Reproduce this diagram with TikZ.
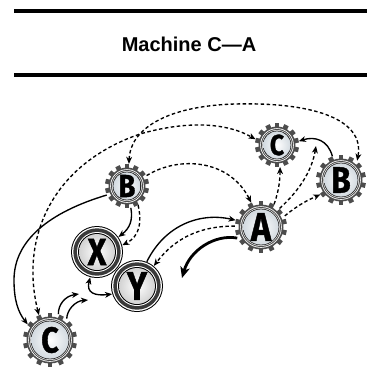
\documentclass[tikz,border=0pt]{standalone}
\usepackage{fontspec}
\newfontfamily\titlefont{Liberation Sans}
\newfontfamily\letterfont[BoldFeatures={FakeBold=1.2}]{Fira Sans}
\usetikzlibrary{arrows.meta}
\definecolor{geardark}{HTML}{4D4D4D}
\definecolor{facegray}{HTML}{D3DAE0}
\definecolor{ringdark}{HTML}{3A3A3A}
\tikzset{
  >={Stealth[length=7pt,width=5.8pt,inset=2pt]},
  conn/.style={line width=1.35pt,->},
  dconn/.style={line width=1.35pt,->,dash pattern=on 3.5pt off 2.5pt},
  thickconn/.style={line width=2.8pt,-{Stealth[length=11pt,width=9.5pt,inset=3pt]}},
  rulebar/.style={line width=4.2pt},
  letter/.style={circle,inner sep=0pt,text=black},
}
% gear node: name, x, y, outer radius, letter, font size
\newcommand\gearnode[6]{%
  \foreach \k in {0,...,13}{%
    \fill[geardark, rotate around={\k*360/14:(#2,#3)}] ({#2-2.4},{#3-#4}) rectangle ({#2+2.4},{#3-#4+5});
  }
  \fill[geardark] (#2,#3) circle[radius={#4pt-3.5pt}];
  \fill[white] (#2,#3) circle[radius={#4pt-5.2pt}];
  \fill[geardark] (#2,#3) circle[radius={#4pt-6pt}];
  \fill[white] (#2,#3) circle[radius={#4pt-7pt}];
  \fill[black!85] (#2,#3) circle[radius={#4pt-7.6pt}];
  \shade[inner color=white,outer color=facegray] (#2,#3) circle[radius={#4pt-8.4pt}];
  \node[letter,minimum size={2*#4pt},font={\letterfont\bfseries\fontsize{#6}{#6}\selectfont}] (#1) at (#2,#3) {\scalebox{0.85}[1]{#5}};
}
% ring node: name, x, y, outer radius, letter, font size
\newcommand\ringnode[6]{%
  \fill[black] (#2,#3) circle[radius={#4pt}];
  \fill[white] (#2,#3) circle[radius={#4pt-1pt}];
  \fill[ringdark] (#2,#3) circle[radius={#4pt-2.3pt}];
  \fill[white] (#2,#3) circle[radius={#4pt-6pt}];
  \fill[black] (#2,#3) circle[radius={#4pt-7pt}];
  \shade[inner color=white,outer color=gray!35] (#2,#3) circle[radius={#4pt-8pt}];
  \node[letter,minimum size={2*#4pt},font={\letterfont\bfseries\fontsize{#6}{#6}\selectfont}] (#1) at (#2,#3) {\scalebox{0.85}[1]{#5}};
}
\begin{document}
\begin{tikzpicture}[x=1pt,y=-1pt]
\useasboundingbox (0,0) rectangle (367,384);
% header
\draw[rulebar] (14,11) -- (367,11);
\draw[rulebar] (14,75) -- (367,75);
\node[font={\titlefont\bfseries\fontsize{20}{24}\selectfont}] (title) at (189,44) {Machine C—A};
% nodes
\gearnode{Bl}{127}{186}{22}{B}{32pt}
\gearnode{Ct}{277}{145}{22}{C}{29pt}
\gearnode{Br}{341}{180}{25}{B}{37pt}
\gearnode{A}{261}{227}{26}{A}{40pt}
\gearnode{Cb}{50}{340}{27}{C}{36pt}
\ringnode{X}{97}{252}{26}{X}{38pt}
\ringnode{Y}{137}{286}{26}{Y}{40pt}
% free ends
\coordinate (c1) at (79,294);
\coordinate (c2) at (88,300);
\coordinate (c3) at (316,146);
\coordinate (c4) at (182,278);
% connectors
\draw[dconn,<->] (Bl.85) .. controls (130,130) and (165,106) .. (235,104) .. controls (310,102) and (365,118) .. (Br.50);
\draw[dconn,<->] (Cb.114) .. controls (20,240) and (50,165) .. (140,134) .. controls (185,121) and (225,122) .. (Ct.165);
\draw[conn] (Bl.204) .. controls (50,212) and (14,240) .. (14,280) .. controls (14,300) and (18,312) .. (Cb.145);
\draw[conn] (Bl.280) .. controls (133,220) and (130,228) .. (X.35);
\draw[dconn] (Bl.300) .. controls (142,222) and (140,236) .. (X.15);
\draw[dconn] (Bl.28) .. controls (180,155) and (230,160) .. (A.112);
\draw[conn] (Y.68) .. controls (165,225) and (200,212) .. (A.165);
\draw[dconn] (A.178) .. controls (200,226) and (175,238) .. (Y.50);
\draw[thickconn] (A.205) .. controls (215,234) and (190,250) .. (c4);
\draw[conn,<->] (X.255) .. controls (86,293) and (95,296) .. (Y.198);
\draw[conn] (Cb.72) .. controls (58,305) and (65,296) .. (c1);
\draw[conn] (Cb.52) .. controls (67,310) and (75,301) .. (c2);
\draw[dconn] (A.60) .. controls (279,190) and (280,180) .. (Ct.278);
\draw[dconn] (A.45) .. controls (300,190) and (312,170) .. (c3);
\draw[dconn] (A.25) .. controls (298,205) and (308,200) .. (Br.215);
\draw[conn] (Br.110) .. controls (328,140) and (315,136) .. (Ct.10);
\end{tikzpicture}
\end{document}
